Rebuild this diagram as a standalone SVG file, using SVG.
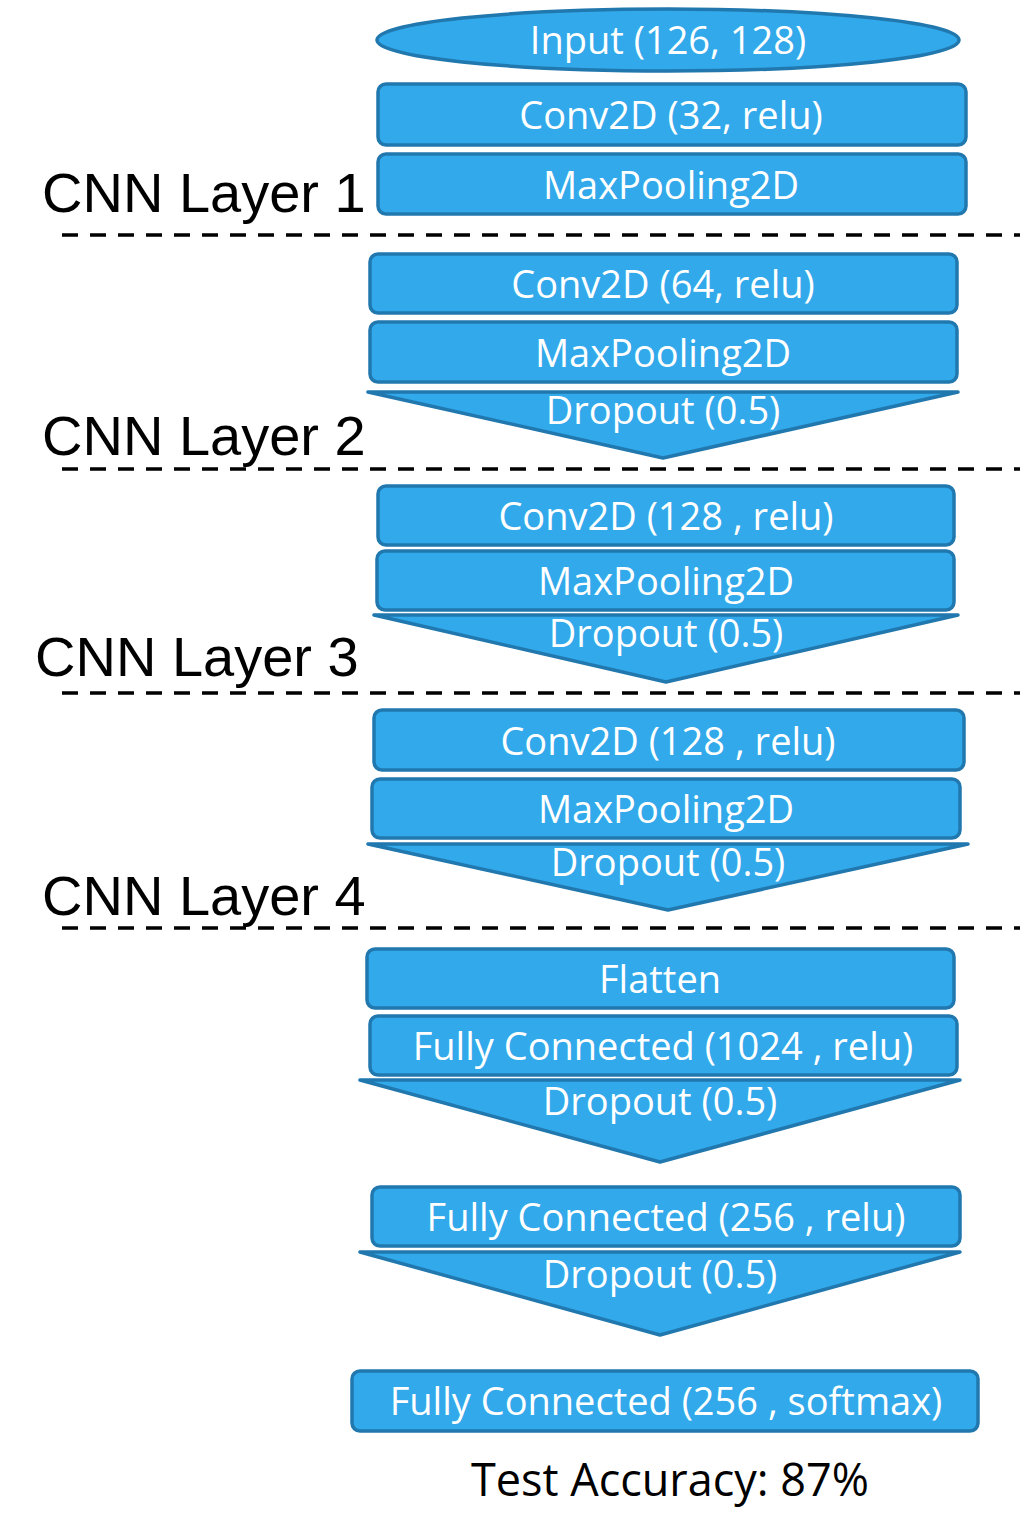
<svg xmlns="http://www.w3.org/2000/svg" width="1030" height="1540" viewBox="0 0 1030 1540">
<style>
.box{fill:#31a9ea;stroke:#2178ae;stroke-width:3.5}
.t{font-family:"Open Sans","Noto Sans",sans-serif;font-size:38px;fill:#fff;text-anchor:middle}
.lab{font-family:"Liberation Sans",Arial,sans-serif;font-size:56px;fill:#000}
.dash{stroke:#000;stroke-width:3.5;stroke-dasharray:16 12;fill:none}
</style>
<rect width="1030" height="1540" fill="#fff"/>
<g id="separators">
<line class="dash" x1="62" y1="235" x2="1020" y2="235"/>
<line class="dash" x1="62" y1="469" x2="1020" y2="469"/>
<line class="dash" x1="62" y1="693" x2="1020" y2="693"/>
<line class="dash" x1="62" y1="928" x2="1020" y2="928"/>
</g>
<g id="labels">
<text class="lab" x="42" y="212">CNN Layer 1</text>
<text class="lab" x="42" y="455">CNN Layer 2</text>
<text class="lab" x="35" y="676">CNN Layer 3</text>
<text class="lab" x="42" y="915">CNN Layer 4</text>
</g>
<g id="input"><ellipse class="box" cx="668" cy="40" rx="291" ry="31"/><text class="t" x="668" y="54">Input (126, 128)</text></g>
<g id="conv1"><rect class="box" x="378" y="84" width="588" height="61" rx="8"/><text class="t" x="671" y="129">Conv2D (32, relu)</text></g>
<g id="pool1"><rect class="box" x="378" y="154" width="588" height="60" rx="8"/><text class="t" x="671" y="199">MaxPooling2D</text></g>
<g id="conv2"><rect class="box" x="370" y="254" width="587" height="59" rx="8"/><text class="t" x="663" y="298">Conv2D (64, relu)</text></g>
<g id="pool2"><rect class="box" x="370" y="322" width="587" height="60" rx="8"/><text class="t" x="663" y="367">MaxPooling2D</text></g>
<g id="drop2"><polygon class="box" points="368,392 958,392 663,458" stroke-linejoin="round"/><text class="t" x="663" y="424">Dropout (0.5)</text></g>
<g id="conv3"><rect class="box" x="378" y="486" width="576" height="59" rx="8"/><text class="t" x="666" y="530">Conv2D (128 , relu)</text></g>
<g id="pool3"><rect class="box" x="377" y="551" width="577" height="59" rx="8"/><text class="t" x="666" y="595">MaxPooling2D</text></g>
<g id="drop3"><polygon class="box" points="374,615 958,615 666,682" stroke-linejoin="round"/><text class="t" x="666" y="647">Dropout (0.5)</text></g>
<g id="conv4"><rect class="box" x="374" y="710" width="590" height="60" rx="8"/><text class="t" x="668" y="755">Conv2D (128 , relu)</text></g>
<g id="pool4"><rect class="box" x="372" y="779" width="588" height="59" rx="8"/><text class="t" x="666" y="823">MaxPooling2D</text></g>
<g id="drop4"><polygon class="box" points="368,844 968,844 668,910" stroke-linejoin="round"/><text class="t" x="668" y="876">Dropout (0.5)</text></g>
<g id="flatten"><rect class="box" x="367" y="949" width="587" height="59" rx="8"/><text class="t" x="660" y="993">Flatten</text></g>
<g id="fc1"><rect class="box" x="370" y="1016" width="587" height="59" rx="8"/><text class="t" x="663" y="1060">Fully Connected (1024 , relu)</text></g>
<g id="drop5"><polygon class="box" points="360,1080 960,1080 660,1162" stroke-linejoin="round"/><text class="t" x="660" y="1115">Dropout (0.5)</text></g>
<g id="fc2"><rect class="box" x="372" y="1187" width="588" height="59" rx="8"/><text class="t" x="666" y="1231">Fully Connected (256 , relu)</text></g>
<g id="drop6"><polygon class="box" points="360,1252 960,1252 660,1335" stroke-linejoin="round"/><text class="t" x="660" y="1288">Dropout (0.5)</text></g>
<g id="fc3"><rect class="box" x="352" y="1371" width="626" height="60" rx="8"/><text class="t" x="666" y="1415">Fully Connected (256 , softmax)</text></g>
<g id="connectors"></g>
<text x="670" y="1496" font-family="Open Sans,Noto Sans,sans-serif" font-size="45" fill="#000" text-anchor="middle">Test Accuracy: 87%</text>
</svg>
